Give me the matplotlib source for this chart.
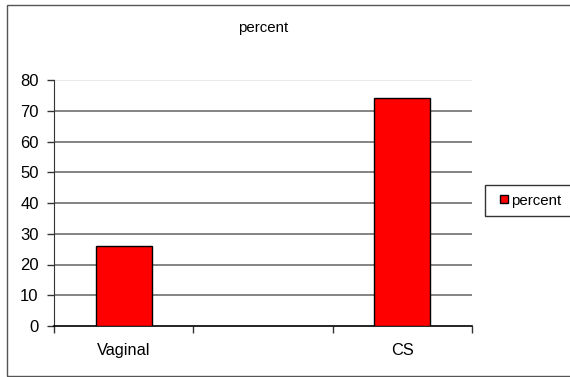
import numpy as np
import matplotlib
matplotlib.use("Agg")
import matplotlib.pyplot as plt
from matplotlib.patches import Rectangle

plt.rcParams['font.family'] = ['Liberation Sans', 'DejaVu Sans']

categories = ["Vaginal", "", "CS"]
values = [26, np.nan, 74]
series_name = "percent"
y_ticks = [0, 10, 20, 30, 40, 50, 60, 70, 80]

W, H = 570, 377
fig = plt.figure(figsize=(W / 100, H / 100), dpi=100)
fig.patch.set_facecolor("white")

# outer chart frame
fig.add_artist(Rectangle((7 / W, 1 / H), 1.0, 1 - 6 / H, transform=fig.transFigure,
                         fill=False, edgecolor="#555555", linewidth=1.0, clip_on=False))

ax = fig.add_axes([54 / W, 1 - 326 / H, (472 - 54) / W, (326 - 80) / H])
x = np.arange(len(categories))
ax.bar(x, values, width=0.4, color="#ff0000", edgecolor="black", linewidth=1.0,
       label=series_name, zorder=3)

ax.set_xlim(-0.5, len(categories) - 0.5)
ax.set_ylim(0, 80)
ax.set_yticks(y_ticks)
ax.set_yticklabels([str(t) for t in y_ticks], fontsize=12)

# category boundaries carry the tick marks, labels sit in the middle
ax.set_xticks(np.arange(len(categories) + 1) - 0.5)
ax.set_xticklabels([])
ax.set_xticks(x, minor=True)
ax.set_xticklabels(categories, minor=True, fontsize=11.8)
ax.tick_params(axis="x", which="minor", length=0, pad=12)
ax.tick_params(axis="x", which="major", length=5, width=1, color="#333333")
ax.tick_params(axis="y", length=5, width=1, color="#333333", pad=6)

for t in y_ticks[1:]:
    col = "#e6e6e6" if t == 80 else "#6e6e6e"
    ax.axhline(t, color=col, linewidth=1.2, zorder=1)

for s in ["top", "right"]:
    ax.spines[s].set_visible(False)
ax.spines["left"].set_color("#333333")
ax.spines["bottom"].set_color("black")
ax.spines["bottom"].set_linewidth(1.2)

fig.text((54 + 472) / 2 / W, 1 - 28 / H, "percent", ha="center", va="center", fontsize=10.8)

# legend box
fig.add_artist(Rectangle((485 / W, 1 - 216 / H), 90 / W, 31 / H, transform=fig.transFigure,
                         fill=False, edgecolor="#333333", linewidth=1.0, clip_on=False))
leg = fig.legend(loc="center left", bbox_to_anchor=(500 / W, 1 - 200.5 / H),
                 bbox_transform=fig.transFigure, fontsize=10.8, frameon=False,
                 handlelength=0.5, handleheight=0.5, handletextpad=0.25,
                 borderpad=0, borderaxespad=0)

fig.savefig("out.png", dpi=100)
